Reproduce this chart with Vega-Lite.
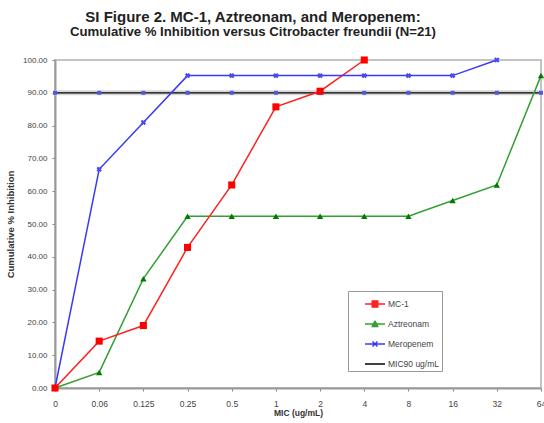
{
  "$schema": "https://vega.github.io/schema/vega-lite/v6.json",
  "width": 486,
  "height": 328,
  "autosize": "none",
  "padding": {"left": 55, "top": 60, "right": 3, "bottom": 35},
  "background": "white",
  "config": {
    "font": "Liberation Sans",
    "view": {"stroke": "#c4c4c4", "strokeWidth": 2}
  },
  "title": {
    "text": "SI Figure 2. MC-1, Aztreonam, and Meropenem:",
    "subtitle": "Cumulative % Inhibition versus Citrobacter freundii (N=21)",
    "font": "Liberation Sans",
    "fontSize": 15,
    "fontWeight": "bold",
    "color": "#222222",
    "subtitleFont": "Liberation Sans",
    "subtitleFontSize": 13.2,
    "subtitleFontWeight": "bold",
    "subtitleColor": "#222222",
    "subtitlePadding": 1,
    "anchor": "middle",
    "dx": -45,
    "offset": 18
  },
  "data": {
    "values": [
      {"mic": "0", "series": "MC-1", "pct": 0},
      {"mic": "0.06", "series": "MC-1", "pct": 14.29},
      {"mic": "0.125", "series": "MC-1", "pct": 19.05},
      {"mic": "0.25", "series": "MC-1", "pct": 42.86},
      {"mic": "0.5", "series": "MC-1", "pct": 61.9},
      {"mic": "1", "series": "MC-1", "pct": 85.71},
      {"mic": "2", "series": "MC-1", "pct": 90.48},
      {"mic": "4", "series": "MC-1", "pct": 100},
      {"mic": "0", "series": "Aztreonam", "pct": 0},
      {"mic": "0.06", "series": "Aztreonam", "pct": 4.76},
      {"mic": "0.125", "series": "Aztreonam", "pct": 33.33},
      {"mic": "0.25", "series": "Aztreonam", "pct": 52.38},
      {"mic": "0.5", "series": "Aztreonam", "pct": 52.38},
      {"mic": "1", "series": "Aztreonam", "pct": 52.38},
      {"mic": "2", "series": "Aztreonam", "pct": 52.38},
      {"mic": "4", "series": "Aztreonam", "pct": 52.38},
      {"mic": "8", "series": "Aztreonam", "pct": 52.38},
      {"mic": "16", "series": "Aztreonam", "pct": 57.14},
      {"mic": "32", "series": "Aztreonam", "pct": 61.9},
      {"mic": "64", "series": "Aztreonam", "pct": 95.24},
      {"mic": "0", "series": "Meropenem", "pct": 0},
      {"mic": "0.06", "series": "Meropenem", "pct": 66.67},
      {"mic": "0.125", "series": "Meropenem", "pct": 80.95},
      {"mic": "0.25", "series": "Meropenem", "pct": 95.24},
      {"mic": "0.5", "series": "Meropenem", "pct": 95.24},
      {"mic": "1", "series": "Meropenem", "pct": 95.24},
      {"mic": "2", "series": "Meropenem", "pct": 95.24},
      {"mic": "4", "series": "Meropenem", "pct": 95.24},
      {"mic": "8", "series": "Meropenem", "pct": 95.24},
      {"mic": "16", "series": "Meropenem", "pct": 95.24},
      {"mic": "32", "series": "Meropenem", "pct": 100},
      {"mic": "0", "series": "MIC90 ug/mL", "pct": 90},
      {"mic": "0.06", "series": "MIC90 ug/mL", "pct": 90},
      {"mic": "0.125", "series": "MIC90 ug/mL", "pct": 90},
      {"mic": "0.25", "series": "MIC90 ug/mL", "pct": 90},
      {"mic": "0.5", "series": "MIC90 ug/mL", "pct": 90},
      {"mic": "1", "series": "MIC90 ug/mL", "pct": 90},
      {"mic": "2", "series": "MIC90 ug/mL", "pct": 90},
      {"mic": "4", "series": "MIC90 ug/mL", "pct": 90},
      {"mic": "8", "series": "MIC90 ug/mL", "pct": 90},
      {"mic": "16", "series": "MIC90 ug/mL", "pct": 90},
      {"mic": "32", "series": "MIC90 ug/mL", "pct": 90},
      {"mic": "64", "series": "MIC90 ug/mL", "pct": 90}
    ]
  },
  "encoding": {
    "x": {
      "field": "mic",
      "type": "ordinal",
      "sort": ["0", "0.06", "0.125", "0.25", "0.5", "1", "2", "4", "8", "16", "32", "64"],
      "scale": {"type": "point", "padding": 0},
      "axis": {
        "title": "MIC (ug/mL)",
        "titleFontSize": 8.5,
        "titleFontWeight": "bold",
        "titleColor": "#333333",
        "titlePadding": 1,
        "labelAngle": 0,
        "labelFontSize": 8.5,
        "labelColor": "#444444",
        "labelPadding": 8,
        "domainColor": "#999999",
        "domainWidth": 2,
        "tickColor": "#888888",
        "tickSize": 3,
        "grid": false
      }
    },
    "y": {
      "field": "pct",
      "type": "quantitative",
      "scale": {"domain": [0, 100], "nice": false},
      "axis": {
        "title": "Cumulative % Inhibition",
        "titleFontSize": 9.5,
        "titleFontWeight": "bold",
        "titleColor": "#333333",
        "titlePadding": 7,
        "values": [0, 10, 20, 30, 40, 50, 60, 70, 80, 90, 100],
        "format": ".2f",
        "labelFontSize": 8,
        "labelColor": "#444444",
        "labelPadding": 5,
        "domainColor": "#999999",
        "domainWidth": 2,
        "tickColor": "#888888",
        "tickSize": 3,
        "grid": false
      }
    }
  },
  "layer": [
    {
      "transform": [{"filter": "datum.series === 'MIC90 ug/mL'"}],
      "mark": {"type": "line", "color": "#d6d6d6", "strokeWidth": 5}
    },
    {
      "transform": [{"filter": "datum.series === 'MIC90 ug/mL'"}],
      "mark": {"type": "line", "color": "#000000", "strokeWidth": 1.3}
    },
    {
      "transform": [{"filter": "datum.series === 'Aztreonam'"}],
      "mark": {"type": "line", "color": "#33a033", "strokeWidth": 1.5}
    },
    {
      "transform": [{"filter": "datum.series === 'MC-1'"}],
      "mark": {"type": "line", "color": "#ff2020", "strokeWidth": 1.5}
    },
    {
      "transform": [{"filter": "datum.series === 'Meropenem'"}],
      "mark": {"type": "line", "color": "#3a3af5", "strokeWidth": 1.5}
    },
    {
      "transform": [{"filter": "datum.series === 'MIC90 ug/mL'"}],
      "mark": {"type": "point", "shape": "square", "filled": true, "size": 16, "color": "#5555ee", "opacity": 1}
    },
    {
      "transform": [{"filter": "datum.series === 'Aztreonam'"}],
      "mark": {"type": "point", "shape": "triangle-up", "filled": true, "size": 40, "color": "#007a00", "opacity": 1}
    },
    {
      "transform": [{"filter": "datum.series === 'Meropenem'"}],
      "mark": {"type": "point", "shape": "cross", "angle": 45, "filled": true, "size": 30, "color": "#4a4af0", "opacity": 1}
    },
    {
      "transform": [{"filter": "datum.series === 'MC-1'"}],
      "mark": {"type": "point", "shape": "square", "filled": true, "size": 50, "color": "#ff0000", "opacity": 1}
    },
    {
      "mark": {"type": "point", "filled": false, "opacity": 0},
      "encoding": {
        "color": {
          "field": "series",
          "type": "nominal",
          "scale": {
            "domain": ["MC-1", "Aztreonam", "Meropenem", "MIC90 ug/mL"],
            "range": ["#ff2020", "#33a033", "#3a3af5", "#000000"]
          },
          "legend": {
            "title": " ",
            "titleOrient": "left",
            "titleFontSize": 1,
            "titlePadding": 14,
            "orient": "none",
            "legendX": 293,
            "legendY": 231,
            "padding": 2,
            "strokeColor": "#999999",
            "fillColor": "white",
            "symbolSize": 400,
            "symbolOpacity": 1,
            "symbolStrokeWidth": 1.5,
            "rowPadding": 3,
            "labelFontSize": 8.5,
            "labelColor": "#444444",
            "labelOffset": 2,
            "encode": {
              "symbols": {
                "fill": {"value": {"signal": "scale('color', datum.value)"}}
              }
            }
          }
        },
        "shape": {
          "field": "series",
          "type": "nominal",
          "scale": {
            "domain": ["MC-1", "Aztreonam", "Meropenem", "MIC90 ug/mL"],
            "range": [
              "M-1,0H1M-0.35,-0.3H0.35M-0.35,-0.15H0.35M-0.35,0.15H0.35M-0.35,0.3H0.35",
              "M-1,0H1M-0.1,-0.25H0.1M-0.2,-0.1H0.2M-0.3,0.1H0.3M-0.35,0.25H0.35",
              "M-1,0H1M-0.25,-0.25L0.25,0.25M-0.25,0.25L0.25,-0.25",
              "M-1,0H1"
            ]
          },
          "legend": {
            "title": " ",
            "titleOrient": "left",
            "titleFontSize": 1,
            "titlePadding": 14,
            "orient": "none",
            "legendX": 293,
            "legendY": 231,
            "padding": 2,
            "strokeColor": "#999999",
            "fillColor": "white",
            "symbolSize": 400,
            "symbolOpacity": 1,
            "symbolStrokeWidth": 1.5,
            "rowPadding": 3,
            "labelFontSize": 8.5,
            "labelColor": "#444444",
            "labelOffset": 2
          }
        }
      }
    }
  ]
}
